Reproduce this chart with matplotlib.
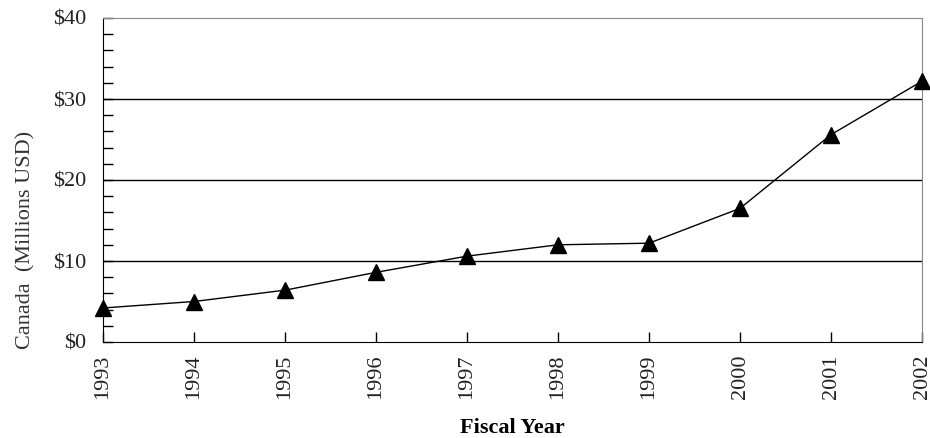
import numpy as np
import matplotlib.pyplot as plt
from matplotlib.ticker import MultipleLocator, FuncFormatter

plt.rcParams['font.family'] = ['Liberation Serif', 'DejaVu Serif']

# 数据
years = [1993, 1994, 1995, 1996, 1997, 1998, 1999, 2000, 2001, 2002]
canada = [4.2, 5.0, 6.4, 8.6, 10.6, 12.0, 12.2, 16.5, 25.6, 32.2]

fig = plt.figure(figsize=(9.3, 4.38), dpi=100)
ax = fig.add_axes([103/930, 96/438, 819/930, 324/438])

# 网格线
for g in [10, 20, 30]:
    ax.axhline(g, color='black', lw=1.0, zorder=1)

ax.plot(years, canada, color='black', lw=1.0, marker='^', ms=11,
        markerfacecolor='black', markeredgecolor='black', clip_on=False, zorder=3)

ax.set_xlim(1993, 2002)
ax.set_ylim(0, 40)
ax.set_xticks(years)
ax.set_xticklabels([str(y) for y in years], rotation=90, fontsize=16, color='#222222')
ax.yaxis.set_major_locator(MultipleLocator(10))
ax.yaxis.set_minor_locator(MultipleLocator(2))
ax.yaxis.set_major_formatter(FuncFormatter(lambda v, p: "$%d" % v))
ax.tick_params(axis='y', which='both', direction='in', length=7, width=1,
               labelsize=16, pad=12, labelcolor='#222222')
ax.tick_params(axis='x', direction='in', length=7, width=1, pad=9)

ax.spines['left'].set_color('black')
ax.spines['bottom'].set_color('black')
ax.spines['top'].set_color('#888888')
ax.spines['right'].set_color('#888888')

ax.set_ylabel("Canada  (Millions USD)", fontsize=16, color='#333333')
ax.yaxis.set_label_coords(-0.082, 0.315)
ax.set_xlabel("Fiscal Year", fontsize=16, fontweight='bold')
ax.xaxis.set_label_coords(0.5, -0.235)

fig.savefig('out.png', dpi=100)
